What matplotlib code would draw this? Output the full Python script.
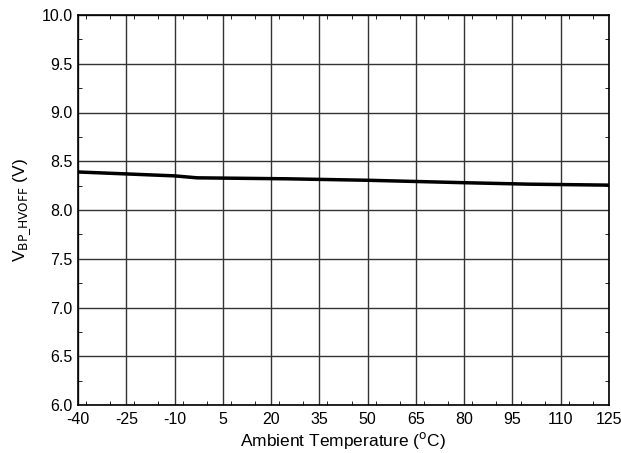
import matplotlib
matplotlib.use('Agg')
import matplotlib.pyplot as plt
from matplotlib.ticker import MultipleLocator

plt.rcParams['font.family'] = ['Liberation Sans', 'DejaVu Sans']
plt.rcParams['axes.unicode_minus'] = False

# Data
temp = [-40, -25, -10, -3, 25, 50, 80, 100, 125]
vbp = [8.39, 8.37, 8.35, 8.33, 8.32, 8.305, 8.28, 8.265, 8.255]
x_ticks = list(range(-40, 126, 15))
y_ticks = [6.0, 6.5, 7.0, 7.5, 8.0, 8.5, 9.0, 9.5, 10.0]

fig = plt.figure(figsize=(6.21, 4.53), dpi=100)
ax = fig.add_axes([78 / 621, 48 / 453, 531 / 621, 390 / 453])

ax.plot(temp, vbp, color='black', linewidth=2.5)

ax.set_xlim(-40, 125)
ax.set_ylim(6.0, 10.0)
ax.set_xticks(x_ticks)
ax.set_yticks(y_ticks)
ax.set_yticklabels([f'{v:.1f}' for v in y_ticks])
ax.xaxis.set_minor_locator(MultipleLocator(7.5))
ax.yaxis.set_minor_locator(MultipleLocator(0.25))
ax.grid(True, which='major', color='#333333', linewidth=1.0)
ax.tick_params(which='both', direction='in', top=True, right=True, labelsize=11.5)
ax.tick_params(axis='x', pad=5)
ax.tick_params(axis='y', pad=4)
ax.tick_params(which='major', length=0)
ax.tick_params(which='minor', length=3)
for s in ax.spines.values():
    s.set_linewidth(1.2)

ax.set_xlabel('Ambient Temperature ($^{\\mathrm{o}}$C)', fontsize=12.5, labelpad=2)
ax.set_ylabel('V$_{\\mathrm{BP\\_HVOFF}}$ (V)', fontsize=12.5, labelpad=6)

plt.savefig('out.png', dpi=100)
